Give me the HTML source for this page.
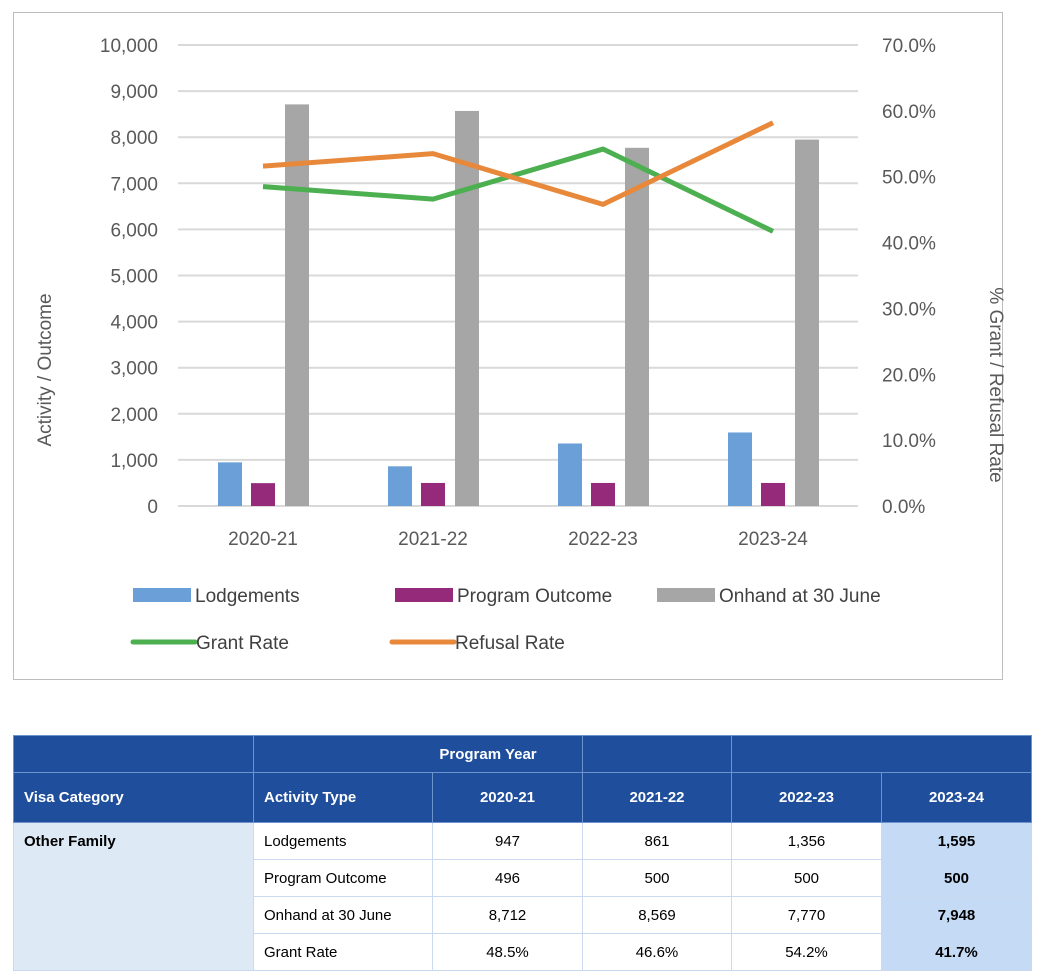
<!DOCTYPE html>
<html><head><meta charset="utf-8"><style>
body{margin:0;width:1056px;height:960px;overflow:hidden;background:#fff;font-family:"Liberation Sans",sans-serif;position:relative}
#frame{position:absolute;left:13px;top:12px;width:990px;height:668px;border:1px solid #bdbdbd;box-sizing:border-box}
table{position:absolute;left:13px;top:735px;border-collapse:collapse;font-size:15px;table-layout:fixed}
td{padding:0 10px;height:36px;border:1px solid #c9daf0}
.h td{background:#1f4e9c;color:#fff;font-weight:bold;border:1px solid #6d93cf}
.c{text-align:center}
.vc{background:#dde9f5;vertical-align:top;padding-top:10px;font-weight:bold}
.last{background:#c5dbf5;font-weight:bold;text-align:center}
</style></head><body>
<div id="frame"></div>
<svg id="chart" width="1056" height="700" style="position:absolute;left:0;top:0"></svg>
<table>
<colgroup><col style="width:240px"><col style="width:179px"><col style="width:150px"><col style="width:149px"><col style="width:150px"><col style="width:150px"></colgroup>
<tr class="h" style="height:37px"><td></td><td colspan="2" style="text-align:center;padding-left:150px">Program Year</td><td></td><td colspan="2"></td></tr>
<tr class="h" style="height:50px"><td>Visa Category</td><td>Activity Type</td><td class="c">2020-21</td><td class="c">2021-22</td><td class="c">2022-23</td><td class="c">2023-24</td></tr>
<tr><td class="vc" rowspan="4">Other Family</td><td>Lodgements</td><td class="c">947</td><td class="c">861</td><td class="c">1,356</td><td class="last">1,595</td></tr>
<tr><td>Program Outcome</td><td class="c">496</td><td class="c">500</td><td class="c">500</td><td class="last">500</td></tr>
<tr><td>Onhand at 30 June</td><td class="c">8,712</td><td class="c">8,569</td><td class="c">7,770</td><td class="last">7,948</td></tr>
<tr><td>Grant Rate</td><td class="c">48.5%</td><td class="c">46.6%</td><td class="c">54.2%</td><td class="last">41.7%</td></tr>
</table>
<script>
const categories=["2020-21","2021-22","2022-23","2023-24"];
const lodgements=[947,861,1356,1595];
const programOutcome=[496,500,500,500];
const onhand=[8712,8569,7770,7948];
const grantRate=[48.5,46.6,54.2,41.7];
const refusalRate=[51.6,53.5,45.8,58.2];
const leftTicks=[0,1000,2000,3000,4000,5000,6000,7000,8000,9000,10000];
const rightTicks=[0,10,20,30,40,50,60,70];
const NS="http://www.w3.org/2000/svg";
const svg=document.getElementById('chart');
const X0=178,X1=858,Y0=506,Y1=45;
const yL=v=>Y0-(v/10000)*(Y0-Y1);
const yR=v=>Y0-(v/70)*(Y0-Y1);
const cw=(X1-X0)/categories.length;
const xc=i=>X0+cw*(i+0.5);
function mk(t,a,txt){const e=document.createElementNS(NS,t);for(const k in a)e.setAttribute(k,a[k]);if(txt!=null)e.textContent=txt;svg.appendChild(e);return e;}
const F='font-family:"Liberation Sans",sans-serif;font-size:19px;fill:#595959';
leftTicks.forEach(v=>{
 const g=mk('line',{x1:X0,x2:X1,y1:yL(v),y2:yL(v),stroke:'#d9d9d9','stroke-width':2});
 
 
 const t=mk('text',{x:158,y:yL(v)+7,'text-anchor':'end',style:F},v.toLocaleString('en-US'));
 
 
});
rightTicks.forEach(v=>{
 const t=mk('text',{x:882,y:yR(v)+7,style:F},v.toFixed(1)+'%');
 
 
});
const series=[[lodgements,'#6a9fd8',-33],[programOutcome,'#952a7a',0],[onhand,'#a6a6a6',34]];
series.forEach(([d,c,off])=>d.forEach((v,i)=>{
 const r=mk('rect',{x:xc(i)+off-12,y:yL(v),width:24,height:Y0-yL(v),fill:c});
 
 
}));
categories.forEach((c,i)=>{
 const t=mk('text',{x:xc(i),y:545,'text-anchor':'middle',style:F},c);
 
 
});
[[grantRate,'#4caf50','grant-rate-line'],[refusalRate,'#e8883a','refusal-rate-line']].forEach(([d,c,n])=>{
 const p=mk('polyline',{points:d.map((v,i)=>xc(i)+','+yR(v)).join(' '),fill:'none',stroke:c,'stroke-width':5,'stroke-linejoin':'round'});
 
 
});
const yt=mk('text',{transform:'translate(51,370) rotate(-90)','text-anchor':'middle',style:F},'Activity / Outcome');


const yt2=mk('text',{transform:'translate(990,385) rotate(90)','text-anchor':'middle',style:F},'% Grant / Refusal Rate');


const leg=[['rect','#6a9fd8','Lodgements',133,595],['rect','#952a7a','Program Outcome',395,595],['rect','#a6a6a6','Onhand at 30 June',657,595],['line','#4caf50','Grant Rate',133,642],['line','#e8883a','Refusal Rate',392,642]];
leg.forEach(([k,c,txt,x,y])=>{
 if(k==='rect')mk('rect',{x:x,y:y-7,width:58,height:14,fill:c});
 else mk('line',{x1:x,x2:x+62,y1:y,y2:y,stroke:c,'stroke-width':5,'stroke-linecap':'round'});
 const t=mk('text',{x:x+(k==='rect'?62:63),y:y+7,style:F.replace('#595959','#404040')},txt);
 
 
});
</script>
</body></html>
